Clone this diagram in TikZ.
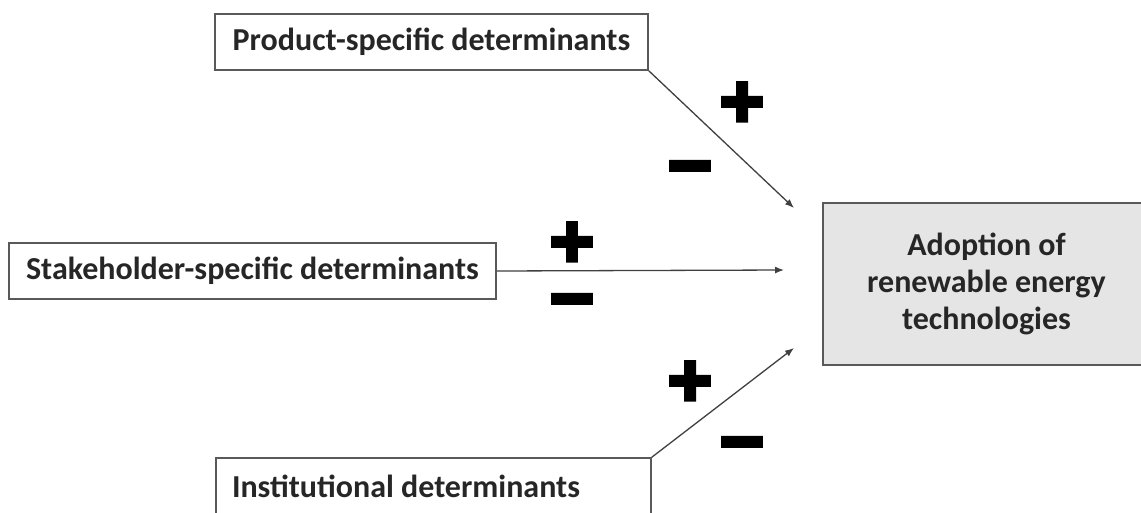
\documentclass[tikz,border=0pt]{standalone}
\usepackage{fontspec}
\setmainfont{Carlito}
\newfontfamily\pmfont[FakeBold=9]{DejaVu Sans}
\usetikzlibrary{arrows.meta}
\tikzset{
  box/.style={draw=black!65, line width=1.5pt, fill=white, inner sep=0pt,
    font=\bfseries\fontsize{32}{37}\selectfont, text=black!85},
  conn/.style={draw=black!75, line width=1.3pt, -{Latex[length=9pt,width=7pt]}},
  pm/.style={inner sep=0pt, text height=30pt, text depth=0pt,
    font=\pmfont\bfseries\fontsize{58}{58}\selectfont}
}
\begin{document}
\begin{tikzpicture}[x=1pt,y=-1pt]
\clip (0,0) rectangle (1141,512);
\fill[white] (0,0) rectangle (1141,512);
\node[box, minimum width=433pt, minimum height=56pt] (prod) at (431.5,42) {Product-specific determinants};
\node[box, minimum width=487pt, minimum height=56pt] (stake) at (252.5,271) {Stakeholder-specific determinants};
\node[box, text width=403pt, inner xsep=16pt, align=flush left, minimum height=56pt] (inst) at (433.5,486) {Institutional determinants};
\node[box, fill=black!10, minimum width=327pt, minimum height=162pt, align=center] (adopt) at (986.5,284) {Adoption of\\renewable energy\\technologies};
\coordinate (t1) at (794,208);
\coordinate (t2) at (784,270);
\coordinate (t3) at (794,348);
\draw[conn] (prod.south east) -- (t1);
\draw[conn] (stake.east) -- (t2);
\draw[conn] (inst.north east) -- (t3);
\node[pm] (p1) at (742,105) {+};
\node[pm] (m1) at (690,169) {−};
\node[pm] (p2) at (572,245) {+};
\node[pm] (m2) at (572,302) {−};
\node[pm] (p3) at (690,384) {+};
\node[pm] (m3) at (742,445) {−};
\end{tikzpicture}
\end{document}
